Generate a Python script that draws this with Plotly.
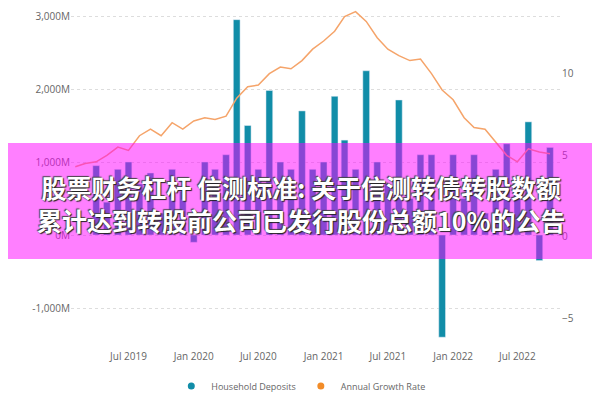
import plotly.graph_objects as go
import pandas as pd

bar_months = pd.date_range("2019-04-01", "2022-10-01", freq="MS")
deposits = [950, 450, 900, 1000, 700, 850, 300, 900, 600, -100, 1000, 900, 1100, 2950, 1500,
            900, 1980, 1000, 900, 1700, 900, 1000, 1900, 1300, 900, 2250, 1000, 700, 1850, 500,
            1100, 1100, -1400, 1100, 500, 1100, 300, 900, 1250, 700, 1550, -350, 1200]
line_months = pd.date_range("2019-02-01", "2022-10-01", freq="MS")
growth = [4.3, 4.5, 4.6, 5.0, 5.5, 5.3, 6.2, 6.6, 6.2, 7.0, 6.6, 7.1, 7.3, 7.2, 7.4, 8.5, 9.2,
          9.3, 10.0, 10.4, 10.3, 10.8, 11.5, 12.0, 12.6, 13.5, 13.8, 13.2, 12.2, 11.5, 11.1,
          10.8, 10.9, 10.0, 9.0, 8.4, 7.3, 6.7, 6.6, 5.8, 5.0, 4.6, 5.4, 5.2, 5.1]
left_ticks = [-1000, 0, 1000, 2000, 3000]
left_labels = ["-1,000M", "0M", "1,000M", "2,000M", "3,000M"]
right_ticks = [-5, 0, 5, 10]
x_ticks = ["2019-07-01", "2020-01-01", "2020-07-01", "2021-01-01", "2021-07-01", "2022-01-01", "2022-07-01"]
x_labels = ["Jul 2019", "Jan 2020", "Jul 2020", "Jan 2021", "Jul 2021", "Jan 2022", "Jul 2022"]
banner = "股票财务杠杆 信测标准: 关于信测转债转股数额<br>累计达到转股前公司已发行股份总额10%的公告"
teal, orange = "#118DA8", "#F5A46A"

fig = go.Figure()
fig.add_bar(x=bar_months, y=deposits, marker_color=teal, showlegend=False,
            width=1000*3600*24*19)
fig.add_scatter(x=line_months, y=growth, yaxis="y2", mode="lines", showlegend=False,
                line=dict(color=orange, width=1.5))
for nm, c in [("Household Deposits", teal), ("Annual Growth Rate", "#F28C28")]:
    fig.add_scatter(x=[None], y=[None], mode="markers", name=nm,
                    marker=dict(color=c, size=7, symbol="circle"))
H = 333
fig.update_layout(
    width=600, height=400, margin=dict(l=63, r=47, t=0, b=67, autoexpand=False),
    plot_bgcolor="white", paper_bgcolor="white",
    font=dict(family="Open Sans", color="#666", size=10),
    xaxis=dict(range=["2019-01-20", "2022-11-01"], tickvals=x_ticks, ticktext=x_labels,
               showgrid=False, zeroline=False, ticklabelstandoff=8),
    yaxis=dict(range=[-1452, 3110], tickvals=left_ticks, ticktext=left_labels,
               gridcolor="#ddd", griddash="dot", zeroline=False),
    yaxis2=dict(overlaying="y", side="right", range=[-6.37, 14.02], tickvals=right_ticks,
                showgrid=False, zeroline=False),
    legend=dict(orientation="h", x=0.488, xanchor="center", xref="container",
                yref="container", y=0.055, yanchor="middle",
                font=dict(size=9), itemwidth=30, tracegroupgap=0),
    shapes=[dict(type="rect", xref="paper", yref="paper", x0=-1, x1=2,
                 y0=(340-258)/H, y1=(340-142)/H, fillcolor="rgba(255,0,255,0.5)",
                 line_width=0, layer="above")],
    annotations=[dict(text=banner, xref="paper", yref="paper", x=(300-70)/490,
                      y=(340-202)/H, showarrow=False, align="center",
                      font=dict(family="Noto Sans CJK SC", size=25, color="white", weight="bold",
                                shadow="1px 1px 1px #222, -1px -1px 1px #444"))],
)
fig.write_html("out.html")
